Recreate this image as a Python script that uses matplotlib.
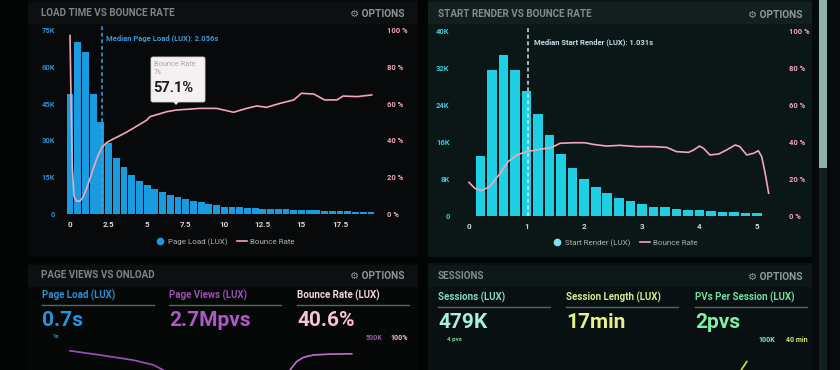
import matplotlib
matplotlib.use('Agg')
import matplotlib.pyplot as plt
from matplotlib.lines import Line2D
from matplotlib.patches import Rectangle, FancyBboxPatch, Polygon

plt.rcParams['font.family'] = ['Roboto', 'DejaVu Sans']

W, H = 840, 370

# ---- load time vs bounce rate
load_bins = [i * 0.5 for i in range(40)]
load_counts = [49000, 70000, 66000, 49000, 37500, 29000, 23000, 19000, 16000, 13500,
               12000, 10300, 9000, 7800, 7000, 6200, 5400, 4900, 4200, 3700,
               3000, 2800, 2700, 2500, 2400, 2200, 2100, 2000, 1900, 1800,
               1700, 1600, 1500, 1400, 1300, 1200, 1100, 1000, 900, 800]
load_bounce_x = [0.0, 0.05, 0.1, 0.15, 0.26, 0.43, 0.65, 0.86, 1.08, 1.4, 1.73, 2.05,
                 2.37, 2.8, 3.45, 4.1, 4.97, 5.18, 6.27, 6.9, 8.4, 9.5, 10.6, 11.45,
                 12.1, 12.75, 13.6, 14.5, 15.0, 15.8, 16.5, 17.3, 17.7, 18.6, 19.55]
load_bounce_y = [97, 70, 46, 25, 9.4, 7, 7, 9.4, 14, 22, 30, 36, 38.8, 40.8, 43.5, 46.6,
                 51, 52.9, 55.6, 56.5, 57.4, 57.4, 55.3, 57.4, 58.7, 58, 60.1, 62, 65.6,
                 65.2, 62, 62, 64.1, 63.8, 64.7]
load_median = 2.056
load_yticks = [0, 15000, 30000, 45000, 60000, 75000]
load_ylabels = ['0', '15K', '30K', '45K', '60K', '75K']
load_xticks = [0, 2.5, 5, 7.5, 10, 12.5, 15, 17.5]
load_xlabels = ['0', '2.5', '5', '7.5', '10', '12.5', '15', '17.5']

# ---- start render vs bounce rate
render_bins = [round(0.2 * (i + 1), 1) for i in range(25)]
render_counts = [12900, 31600, 34800, 31600, 27000, 22000, 17600, 13500, 10300, 8000,
                 6200, 4900, 3900, 3200, 2600, 2000, 1900, 1600, 1300, 1200,
                 1000, 950, 800, 700, 600]
render_bounce_x = [0.0, 0.1, 0.22, 0.36, 0.54, 0.68, 0.83, 1.0, 1.23, 1.44, 1.58, 1.81,
                   2.01, 2.16, 2.39, 2.62, 2.91, 3.2, 3.43, 3.6, 3.81, 3.9, 4.0, 4.07,
                   4.18, 4.33, 4.47, 4.62, 4.7, 4.82, 4.94, 5.02, 5.08, 5.14, 5.2]
render_bounce_y = [18.2, 15, 13.7, 15.9, 23, 29.4, 33, 34.8, 36, 37.1, 39.3, 39.6, 39.6,
                   38.7, 37.8, 38.2, 37.5, 37.5, 37.1, 34.8, 34.4, 35.7, 37.8, 36.6, 33,
                   33.5, 35.7, 38.4, 37.5, 33, 33.9, 35.3, 32, 23, 12.3]
render_median = 1.031
render_yticks = [0, 8000, 16000, 24000, 32000, 40000]
render_ylabels = ['0', '8K', '16K', '24K', '32K', '40K']
render_xticks = [0, 1, 2, 3, 4, 5]

pct_ticks = [0, 20, 40, 60, 80, 100]
pct_labels = ['0 %', '20 %', '40 %', '60 %', '80 %', '100 %']

# ---- bottom strips (only the top of these charts is visible)
views_x = [0.92, 2.77, 4.82, 6.05, 6.66, 7.1]
views_y = [0.64, 0.5, 0.33, 0.17, 0.0, -0.2]
onload_x = [14.2, 14.46, 14.87, 15.28, 15.9, 16.92, 18.26]
onload_y = [-0.27, 0.0, 0.28, 0.42, 0.5, 0.53, 0.54]
sess_x = [4.70, 4.73, 4.82]
sess_y = [-0.1, 0.02, 0.28]

BLUE = '#1a9be0'
CYAN = '#1fd0e4'
PINK = '#f2a6b8'


def px_axes(x0, y0, x1, y1, **kw):
    return fig.add_axes([x0 / W, 1 - y1 / H, (x1 - x0) / W, (y1 - y0) / H], **kw)


fig = plt.figure(figsize=(8.4, 3.7), dpi=100, facecolor='#030404')

# background panels
bg = px_axes(0, 0, W, H, zorder=-5)
bg.set_xlim(0, W)
bg.set_ylim(H, 0)
bg.axis('off')
panels = [(28, 0, 418, 257, '#07090a', '#0d1011'),
          (428, 0, 812, 257, '#0b1617', '#121e1f'),
          (28, 263, 418, 370, '#060808', '#0c1011'),
          (428, 263, 812, 370, '#081011', '#0f1819')]
for x0, y0, x1, y1, c, hc in panels:
    bg.add_patch(Rectangle((x0, y0), x1 - x0, y1 - y0, color=c, lw=0))
    bg.add_patch(Rectangle((x0, y0 + 2), x1 - x0, 22, color=hc, lw=0))
bg.add_patch(Rectangle((812, 0), 28, H, color='#060a0a', lw=0))
bg.add_patch(Rectangle((819, 0), 8, 168, color='#8fb0a8', lw=0))
bg.add_patch(Rectangle((819, 168), 8, 202, color='#142020', lw=0))


def style_axes(ax, ax2, tick_col, xlim, ylim, yticks, ylabels):
    ax.set_facecolor('none')
    ax.set_xlim(*xlim)
    ax.set_ylim(*ylim)
    for s in ax.spines.values():
        s.set_visible(False)
    for s in ax2.spines.values():
        s.set_visible(False)
    ax.set_yticks(yticks)
    ax.set_yticklabels(ylabels)
    ax.tick_params(axis='y', length=0, pad=5, labelsize=5.5, labelcolor=tick_col)
    ax.tick_params(axis='x', length=0, pad=5, labelsize=5.8, labelcolor='#d8d8d8')
    for lab in ax.get_xticklabels() + ax.get_yticklabels():
        lab.set_fontweight('bold')
    ax2.set_ylim(0, 100)
    ax2.set_yticks(pct_ticks)
    ax2.set_yticklabels(pct_labels)
    ax2.tick_params(axis='y', length=0, pad=5, labelsize=5.5, labelcolor='#f0a8b8')
    for lab in ax2.get_yticklabels():
        lab.set_fontweight('bold')


# ---- top left chart
ax1 = px_axes(62, 30, 380, 214)
ax1.bar(load_bins, load_counts, width=0.44, color=BLUE, lw=0)
ax1.set_xticks(load_xticks)
ax1.set_xticklabels(load_xlabels)
ax1b = ax1.twinx()
ax1b.plot(load_bounce_x, load_bounce_y, color=PINK, lw=1.2, solid_joinstyle='round')
style_axes(ax1, ax1b, '#2a8fd0', (-0.52, 20.09), (0, 75000), load_yticks, load_ylabels)
ax1.plot([load_median, load_median], [0, 76500], color='#3aa8e8', lw=1.1,
         ls=(0, (2.5, 1.8)), clip_on=False)
ax1.text(load_median + 0.3, 71800, 'Median Page Load (LUX): 2.056s', color='#3a9ad8',
         fontsize=5.5, fontweight='bold', va='center')
ax1.legend(handles=[Line2D([], [], marker='o', ls='', color=BLUE, markersize=4.5),
                    Line2D([], [], color=PINK, lw=1.2)],
           labels=['Page Load (LUX)', 'Bounce Rate'], ncol=2, frameon=False,
           loc='center', bbox_to_anchor=(225 / W, 1 - 242 / H), bbox_transform=fig.transFigure,
           fontsize=5.8, labelcolor='#b0b0b0', handlelength=1.2, handletextpad=0.4,
           columnspacing=1.2)

# ---- top right chart
ax2 = px_axes(462, 31, 775, 216)
ax2.bar(render_bins, render_counts, width=0.166, color=CYAN, lw=0)
ax2.set_xticks(render_xticks)
ax2.set_xticklabels([str(t) for t in render_xticks])
ax2b = ax2.twinx()
ax2b.plot(render_bounce_x, render_bounce_y, color=PINK, lw=1.2, solid_joinstyle='round')
style_axes(ax2, ax2b, '#40c8d4', (-0.12, 5.31), (0, 40000), render_yticks, render_ylabels)
ax2.tick_params(axis='y', pad=9)
ax2b.tick_params(axis='y', pad=10)
ax2.plot([render_median, render_median], [0, 40600], color='#d0e8ee', lw=1.1,
         ls=(0, (2.5, 1.8)), clip_on=False)
ax2.text(render_median + 0.09, 37600, 'Median Start Render (LUX): 1.031s', color='#c0e0e6',
         fontsize=5.5, fontweight='bold', va='center')
ax2.legend(handles=[Line2D([], [], marker='o', ls='', color='#7ae4ee', markersize=4.5),
                    Line2D([], [], color=PINK, lw=1.2)],
           labels=['Start Render (LUX)', 'Bounce Rate'], ncol=2, frameon=False,
           loc='center', bbox_to_anchor=(625 / W, 1 - 243 / H), bbox_transform=fig.transFigure,
           fontsize=5.8, labelcolor='#b0b0b0', handlelength=1.2, handletextpad=0.4,
           columnspacing=1.2)

# ---- bottom strips
ax3 = px_axes(55, 340, 380, 370)
ax3.plot(views_x, views_y, color='#a050b8', lw=1.2)
ax3.plot(onload_x, onload_y, color='#c070c8', lw=1.2)
ax3.set_xlim(0, 20)
ax3.set_ylim(0, 1)
ax3.axis('off')
ax4 = px_axes(462, 340, 775, 370)
ax4.plot(sess_x, sess_y, color='#d8e040', lw=1.2)
ax4.set_xlim(-0.12, 5.31)
ax4.set_ylim(0, 1)
ax4.axis('off')

# ---- overlay text
ov = px_axes(0, 0, W, H, zorder=10)
ov.set_xlim(0, W)
ov.set_ylim(H, 0)
ov.axis('off')
ov.patch.set_alpha(0)


def t(x, y, s, c, size, ha='left', weight='bold'):
    ov.text(x, y, s, color=c, fontsize=size, ha=ha, va='center', fontweight=weight)


t(41, 13, 'LOAD TIME VS BOUNCE RATE', '#7a8584', 7.1)
t(404, 14, '⚙ OPTIONS', '#8a9694', 7.3, ha='right')
t(438, 14, 'START RENDER VS BOUNCE RATE', '#7d8e8c', 7.1)
t(803, 15, '⚙ OPTIONS', '#8a9c98', 7.3, ha='right')
t(41, 275, 'PAGE VIEWS VS ONLOAD', '#7a8584', 7.1)
t(404, 276, '⚙ OPTIONS', '#8a9694', 7.3, ha='right')
t(438, 276, 'SESSIONS', '#7d8e8c', 7.1)
t(803, 277, '⚙ OPTIONS', '#8a9c98', 7.3, ha='right')

kpis = [(42, 'Page Load (LUX)', '0.7s', '#2a90d0', '#2196e0'),
        (169, 'Page Views (LUX)', '2.7Mpvs', '#9a50b0', '#b058c8'),
        (297, 'Bounce Rate (LUX)', '40.6%', '#f4d4dc', '#f8c4d0'),
        (438, 'Sessions (LUX)', '479K', '#7ed8c0', '#a8f0d8'),
        (566, 'Session Length (LUX)', '17min', '#d8e890', '#e8f088'),
        (695, 'PVs Per Session (LUX)', '2pvs', '#70e0a0', '#80f0a8')]
for x, lab, val, c1, c2 in kpis:
    y0 = 295 if x < 420 else 297
    t(x, y0, lab, c1, 7)
    ov.plot([x, x + 112], [y0 + 10, y0 + 10], color='#5a6262', lw=1)
    t(x, y0 + 25, val, c2, 15)

t(53, 337, '1s', '#2a90d0', 4.5)
t(382, 338, '500K', '#9a60a8', 5, ha='right')
t(408, 338, '100%', '#f4c0cc', 5, ha='right')
t(447, 339, '4 pvs', '#70d890', 4.5)
t(775, 340, '100K', '#90e8c8', 5, ha='right')
t(808, 340, '40 min', '#d8e870', 5, ha='right')

# tooltip
ov.add_patch(FancyBboxPatch((151, 57), 54, 45, boxstyle='round,pad=0,rounding_size=2',
                            fc='#f6f1f1', ec='#d8d0d0', lw=0.6))
ov.add_patch(Polygon([[173, 101.5], [179, 101.5], [176, 105]], closed=True,
                     fc='#f6f1f1', ec='none'))
t(154, 64, 'Bounce Rate', '#a8a8a8', 5.3, weight='normal')
t(154, 72, '7s', '#a8a8a8', 5.3, weight='normal')
t(153, 88, '57.1%', '#1a1a1a', 10.5)

fig.savefig('out.png', dpi=100, facecolor=fig.get_facecolor())
